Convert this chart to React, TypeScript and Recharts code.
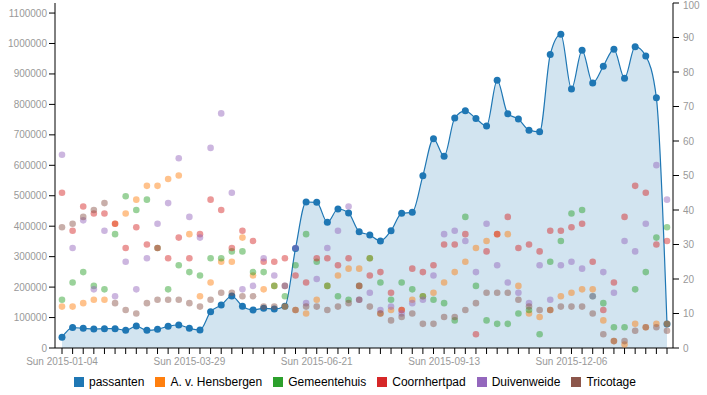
import React from 'react';
import { ComposedChart, Area, Line, XAxis, YAxis } from 'recharts';

const weeks = [
  '2015-01-04', '2015-01-11', '2015-01-18', '2015-01-25', '2015-02-01', '2015-02-08', '2015-02-15', '2015-02-22',
  '2015-03-01', '2015-03-08', '2015-03-15', '2015-03-22', '2015-03-29', '2015-04-05', '2015-04-12', '2015-04-19',
  '2015-04-26', '2015-05-03', '2015-05-10', '2015-05-17', '2015-05-24', '2015-05-31', '2015-06-07', '2015-06-14',
  '2015-06-21', '2015-06-28', '2015-07-05', '2015-07-12', '2015-07-19', '2015-07-26', '2015-08-02', '2015-08-09',
  '2015-08-16', '2015-08-23', '2015-08-30', '2015-09-06', '2015-09-13', '2015-09-20', '2015-09-27', '2015-10-04',
  '2015-10-11', '2015-10-18', '2015-10-25', '2015-11-01', '2015-11-08', '2015-11-15', '2015-11-22', '2015-11-29',
  '2015-12-06', '2015-12-13', '2015-12-20', '2015-12-27', '2016-01-03', '2016-01-10', '2016-01-17', '2016-01-24',
  '2016-01-31', '2016-02-07',
];

const labelWeeks = ['2015-01-04', '2015-03-29', '2015-06-21', '2015-09-13', '2015-12-06'];

// left axis
const passanten = [
  35000, 67000, 64600, 62400, 63500, 63500, 58000, 72300, 58000, 61300,
  71200, 75500, 64600, 59100, 119300, 141200, 170800, 136800, 124800, 130300,
  128000, 137000, 327000, 479500, 478400, 412700, 456500, 443300, 382000, 371100,
  351400, 385300, 442200, 445500, 566000, 687000, 630000, 755300, 778800, 753600,
  729000, 879000, 769000, 752000, 715300, 710000, 964000, 1030000, 850600, 977600,
  870300, 925500, 980800, 886000, 989600, 959000, 821500, 78800,
];

// right axis
const hensbergen = [
  12, 12, 13, 14, 14, 36, 39, 43, 47, 47,
  49, 50, 33, 15, 19, 25, 25, 32, 21, 17,
  18, 12, 11, 10, 14, 18, 21, 23, 23, 26,
  10, 11, 11, 14, 15, 16, 19, 22, 25, 29,
  31, 33, 33, 18, 10, 9, 11, 15, 16, 17,
  17, 8, 2, 1, 7, 6, 7, 7,
];
const gemeentehuis = [
  14, 19, 22, 18, 17, 33, 44, 40, 43, 29,
  17, 24, 22, 21, 26, 26, 28, 28, 22, 22,
  18, 15, 24, 33, 25, 18, 15, 14, 18, 26,
  19, 14, 19, 17, 15, 14, 13, 8, 38, 18,
  8, 7, 7, 10, 11, 4, 25, 31, 39, 40,
  15, 13, 6, 6, 17, 22, 32, 35,
];
const coornhertpad = [
  45, 34, 41, 39, 39, 36, 29, 35, 30, 29,
  26, 32, 26, 33, 43, 40, 29, 34, 31, 25,
  25, 26, 21, 19, 26, 26, 24, 26, 18, 21,
  22, 16, 11, 23, 22, 24, 30, 30, 33, 4,
  28, 33, 38, 29, 30, 28, 34, 34, 35, 36,
  25, 11, 19, 38, 47, 45, 30, 31,
];
const duivenweide = [
  56, 29, 37, 17, 34, 15, 25, 17, 26, 36,
  42, 55, 38, 32, 58, 68, 45, 17, 18, 26,
  21, 18, 29, 13, 20, 29, 34, 41, 14, 16,
  11, 12, 10, 13, 14, 21, 33, 34, 31, 22,
  36, 24, 19, 16, 13, 24, 14, 24, 25, 23,
  15, 22, 16, 31, 28, 36, 53, 43,
];
const tricotage = [
  35, 36, 38, 40, 42, 13, 11, 10, 13, 14,
  14, 14, 13, 12, 14, 16, 16, 15, 15, 12,
  12, 18, 11, 12, 12, 11, 12, 13, 14, 12,
  10, 8, 9, 10, 7, 7, 9, 9, 11, 13,
  16, 16, 16, 14, 12, 11, 11, 12, 12, 12,
  10, 4, 2, 2, 5, 6, 6, 5,
];

const leftTicks = [0, 100000, 200000, 300000, 400000, 500000, 600000, 700000, 800000, 900000, 1000000, 1100000];
const rightTicks = [0, 10, 20, 30, 40, 50, 60, 70, 80, 90, 100];

const scatterSeries = [
  { key: 'hensbergen', name: 'A. v. Hensbergen', color: '#ff7f0e', values: hensbergen },
  { key: 'gemeentehuis', name: 'Gemeentehuis', color: '#2ca02c', values: gemeentehuis },
  { key: 'coornhertpad', name: 'Coornhertpad', color: '#d62728', values: coornhertpad },
  { key: 'duivenweide', name: 'Duivenweide', color: '#9467bd', values: duivenweide },
  { key: 'tricotage', name: 'Tricotage', color: '#8c564b', values: tricotage },
];

const legendItems = [{ name: 'passanten', color: '#1f77b4' }, ...scatterSeries];

const chartData = weeks.map((week, i) => {
  const row: any = { week, passanten: passanten[i] };
  scatterSeries.forEach((s) => { row[s.key] = s.values[i]; });
  return row;
});

const font = '"Liberation Sans", Arial, Helvetica, sans-serif';

const WeekTick = ({ x, y, payload }: any) => {
  if (!labelWeeks.includes(payload.value)) return <g />;
  return (
    <text x={x} y={y} dy="0.71em" textAnchor="middle" fill="#999" fontSize={10} fontFamily={font}>
      {'Sun ' + payload.value}
    </text>
  );
};

export default function App() {
  return (
    <div style={{ position: 'absolute', left: 0, top: 0, width: 707, height: 395, background: '#fff', fontFamily: font }}>
      <ComposedChart width={707} height={395} data={chartData} margin={{ top: 3, right: 0, left: 0, bottom: 27 }}>
        <XAxis
          dataKey="week"
          interval={0}
          height={20}
          tickSize={6}
          tickMargin={4}
          padding={{ left: 7, right: 6 }}
          stroke="#000"
          tick={(p: any) => <WeekTick {...p} />}
        />
        <YAxis
          yAxisId="left"
          width={55}
          domain={[0, (dataMax: number) => dataMax * 1.1]}
          ticks={leftTicks}
          tickSize={6}
          stroke="#000"
          tick={{ fill: '#999', fontSize: 10, fontFamily: font }}
        />
        <YAxis
          yAxisId="right"
          orientation="right"
          width={34}
          domain={[0, 100]}
          ticks={rightTicks}
          tickSize={6}
          tickMargin={4}
          stroke="#000"
          tick={{ fill: '#999', fontSize: 10, fontFamily: font }}
        />
        <Area
          yAxisId="left"
          type="monotone"
          dataKey="passanten"
          stroke="#1f77b4"
          strokeWidth={1.2}
          fill="#1f77b4"
          fillOpacity={0.2}
          dot={{ r: 3.5, fill: '#1f77b4', fillOpacity: 1, stroke: 'none' }}
          activeDot={false}
          isAnimationActive={false}
        />
        {scatterSeries.map((s) => (
          <Line
            key={s.key}
            yAxisId="right"
            dataKey={s.key}
            stroke="none"
            dot={{ r: 3.3, fill: s.color, fillOpacity: 0.48, stroke: 'none' }}
            activeDot={false}
            isAnimationActive={false}
          />
        ))}
      </ComposedChart>
      <div style={{ position: 'absolute', left: 74, top: 376, height: 12, display: 'flex', alignItems: 'center' }}>
        {legendItems.map((item) => (
          <div key={item.name} style={{ display: 'flex', alignItems: 'center', marginRight: 11 }}>
            <span style={{ width: 10, height: 10, background: item.color, marginRight: 5, display: 'inline-block' }} />
            <span style={{ fontSize: 12, color: '#000', whiteSpace: 'nowrap' }}>{item.name}</span>
          </div>
        ))}
      </div>
    </div>
  );
}
